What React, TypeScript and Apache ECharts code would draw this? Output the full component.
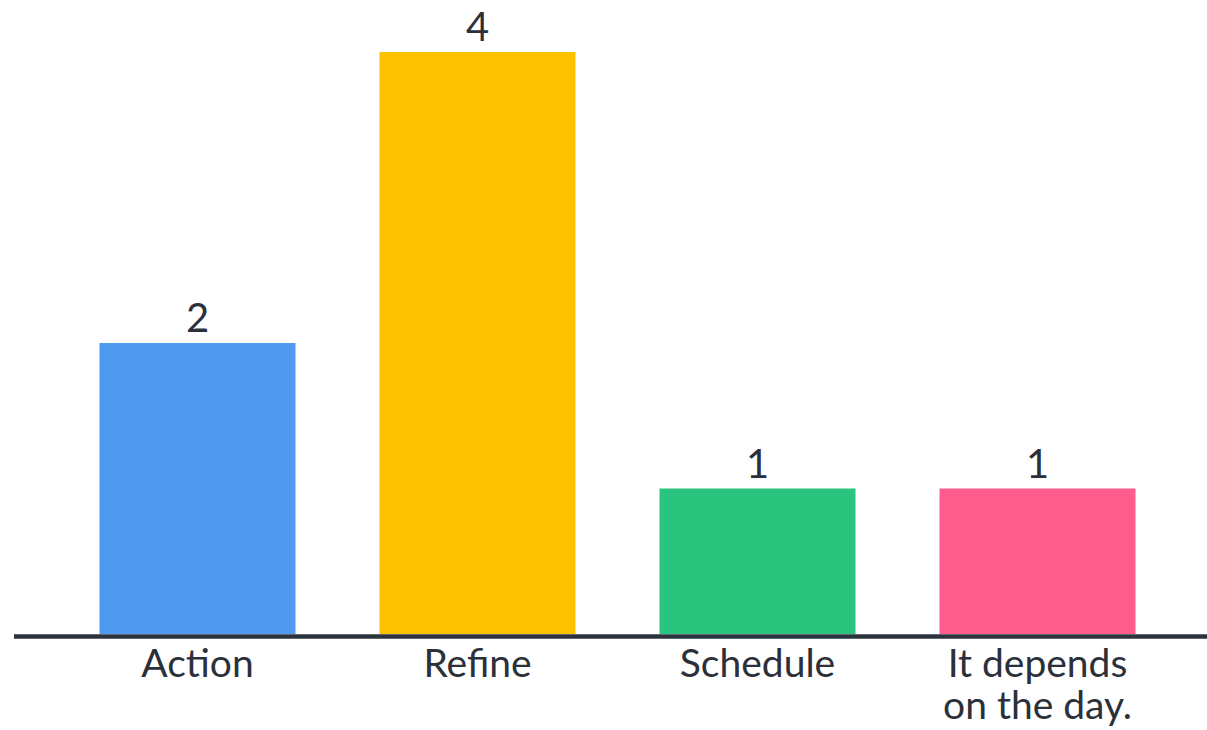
import React, { useEffect, useRef } from "react";
import * as echarts from "echarts";

const categories = ["Action", "Refine", "Schedule", "It depends\non the day."];
const values = [2, 4, 1, 1];
const colors = ["#4f99ee", "#fcc200", "#2bc47e", "#ff5c8e"];

export default function App() {
  const ref = useRef<HTMLDivElement>(null);
  useEffect(() => {
    if (!ref.current) return;
    const chart = echarts.init(ref.current, undefined, { renderer: "svg" });
    const font = "Lato";
    chart.setOption({
      animation: false,
      grid: { left: 57.5, right: 29.5, top: 52, bottom: 96, containLabel: false },
      xAxis: {
        type: "category",
        data: categories,
        axisLine: { show: false },
        axisTick: { show: false },
        axisLabel: {
          color: "#2b303a",
          fontFamily: font,
          fontSize: 39,
          lineHeight: 42,
          margin: 7,
          interval: 0,
        },
      },
      yAxis: {
        type: "value",
        min: 0,
        max: 4,
        show: false,
        splitLine: { show: false },
      },
      series: [
        {
          type: "bar",
          barWidth: "70%",
          data: values.map((v, i) => ({ value: v, itemStyle: { color: colors[i] } })),
          label: {
            show: true,
            position: "top",
            distance: 6,
            color: "#2b303a",
            fontFamily: font,
            fontSize: 40,
          },
        },
      ],
      graphic: [
        {
          type: "line",
          shape: { x1: 14, y1: 636.5, x2: 1207, y2: 636.5 },
          style: { stroke: "#2d333d", lineWidth: 4.5 },
          z: 10,
        },
      ],
    });
    return () => chart.dispose();
  }, []);
  return <div ref={ref} style={{ width: 1207, height: 730, position: "absolute", left: 0, top: 0 }} />;
}
